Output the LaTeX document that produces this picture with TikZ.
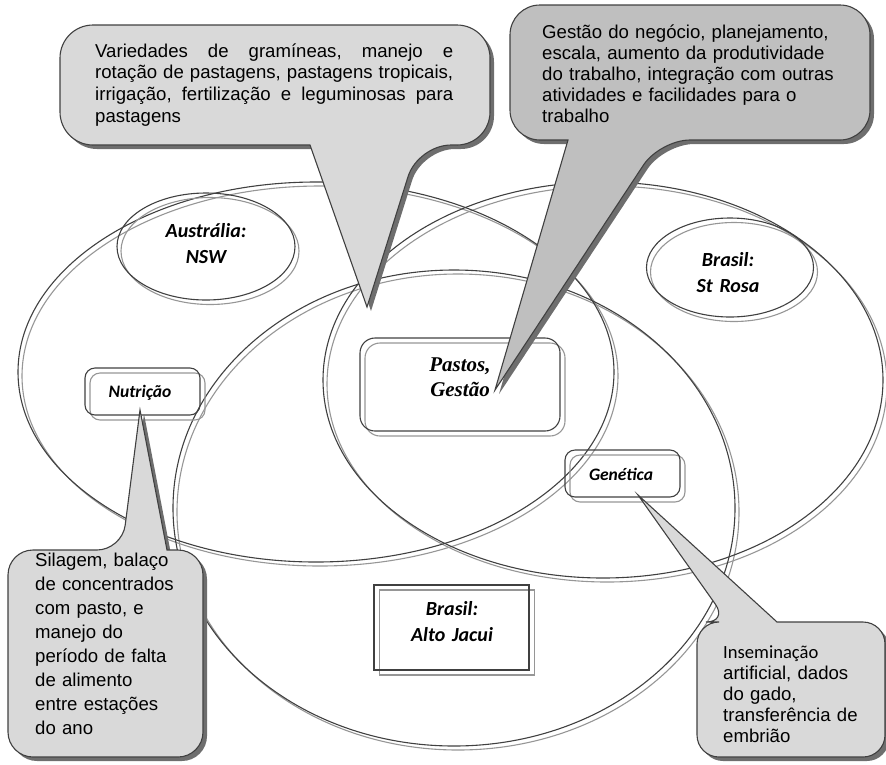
\documentclass[tikz,border=0pt]{standalone}
\usepackage{fontspec}
\setmainfont{Liberation Sans}
\newfontfamily\calfont{Carlito}
\newfontfamily\timesfont{Liberation Serif}
\usetikzlibrary{shapes.geometric}
\definecolor{ldark}{RGB}{64,64,64}
\definecolor{lgray}{RGB}{150,150,150}
\definecolor{cfill}{RGB}{217,217,217}
\definecolor{cfilltwo}{RGB}{191,191,191}
\definecolor{cshadow}{RGB}{110,110,110}
\tikzset{
  dk/.style={draw=ldark, line width=1.1pt},
  gr/.style={draw=lgray, line width=1.1pt},
  rbox/.style={rectangle, rounded corners=#1, inner sep=0pt},
  ell/.style={ellipse, inner sep=0pt},
  calloutbody/.style={draw=ldark, line width=1.1pt, fill=#1},
  calloutshadow/.style={fill=cshadow, transform canvas={shift={(4,4)}}},
  ctext/.style={anchor=base west, inner sep=0pt, text width=#1, align=left},
  regionlab/.style={anchor=base, inner sep=0pt, text width=150, align=center,
    font=\calfont\bfseries\itshape\fontsize{20}{26}\selectfont},
  smalllab/.style={anchor=base, inner sep=0pt,
    font=\calfont\bfseries\itshape\fontsize{17.5}{21}\selectfont},
}
\begin{document}
\begin{tikzpicture}[x=1pt, y=-1pt]
\useasboundingbox (0,0) rectangle (886,764);

% large regions (gray copies, then dark)
\draw[gr] (320,376) ellipse [x radius=298, y radius=190];
\draw[gr] (607,384) ellipse [x radius=280, y radius=198];
\draw[gr] (458,512) ellipse [x radius=281, y radius=238];
\draw[dk] (316,372) ellipse [x radius=298, y radius=190];
\draw[dk] (603,380) ellipse [x radius=280, y radius=198];
\draw[dk] (454,508) ellipse [x radius=281, y radius=238];

% small shapes: gray copies
\node[gr, ell, minimum width=178, minimum height=107] (nswcopy) at (210,251) {};
\node[gr, ell, minimum width=167, minimum height=99] (strosacopy) at (734,272) {};
\node[gr, rbox=15, minimum width=200, minimum height=93] (pastcopy) at (465,389.5) {};
\node[gr, rbox=10, minimum width=115, minimum height=47] (nutcopy) at (147.5,396.5) {};
\node[gr, rbox=10, minimum width=115, minimum height=47] (gencopy) at (627.5,478.5) {};
\node[gr, rectangle, inner sep=0pt, minimum width=155, minimum height=85] (altocopy) at (457,632.5) {};
% small shapes: dark
\node[dk, ell, minimum width=178, minimum height=107] (nswshape) at (206,246.5) {};
\node[dk, ell, minimum width=167, minimum height=99] (strosashape) at (730,267.5) {};
\node[dk, rbox=15, minimum width=200, minimum height=93] (pastshape) at (460,384.5) {};
\node[dk, rbox=10, minimum width=115, minimum height=47] (nutshape) at (142.5,391.5) {};
\node[dk, rbox=10, minimum width=115, minimum height=47] (genshape) at (622.5,473.5) {};
\node[dk, rectangle, inner sep=0pt, minimum width=155, minimum height=85] (altoshape) at (451.5,627.5) {};

% labels
\node[regionlab] (nswlab) at (206,237) {Austrália:\\NSW};
\node[regionlab] (strosalab) at (728,266.5) {Brasil:\\St Rosa};
\node[regionlab] (altolab) at (452,615) {Brasil:\\Alto Jacui};
\node[anchor=base, inner sep=0pt, text width=150, align=center,
  font=\timesfont\bfseries\itshape\fontsize{21}{25}\selectfont] (pastlab) at (460,371) {Pastos,\\Gestão};
\node[smalllab] (nutlab) at (140,397.5) {Nutrição};
\node[smalllab] (genlab) at (621,480) {Genética};

% callout tips
\coordinate (tlTip) at (367,307);
\coordinate (trTip) at (495,390);
\coordinate (blTip) at (140,410);
\coordinate (brTip) at (638,495);

\def\TLpath{(275,25) [rounded corners=33] -- (490,25) -- (490,145) -- (418,145) [sharp corners] -- (tlTip) -- (310,145) [rounded corners=33] -- (60,145) -- (60,25) -- cycle}
\def\TRpath{(690,5) [rounded corners=30] -- (870,5) -- (870,140) -- (660,140) [sharp corners] -- (trTip) -- (568,140) [rounded corners=30] -- (510,140) -- (510,5) -- cycle}
\def\BLpath{(100,757) [rounded corners=25] -- (8,757) -- (8,550) -- (122,550) [sharp corners] -- (blTip) -- (167,550) [rounded corners=25] -- (203,550) -- (203,757) -- cycle}
\def\BRpath{(790,757) [rounded corners=22] -- (697,757) -- (697,622) -- (728,622) [sharp corners] -- (brTip) -- (777,622) [rounded corners=22] -- (885,622) -- (885,757) -- cycle}

\path[calloutshadow] \TLpath;
\path[calloutbody=cfill] \TLpath;
\path[calloutshadow] \TRpath;
\path[calloutbody=cfilltwo] \TRpath;
\path[calloutshadow] \BLpath;
\path[calloutbody=cfill] \BLpath;
\path[calloutshadow] \BRpath;
\path[calloutbody=cfill] \BRpath;

% callout texts
\node[ctext=358, font=\fontsize{18.6}{21.7}\selectfont] (tltext) at (95,57) {%
\makebox[358pt][l]{Variedades\hfill de\hfill gramíneas,\hfill manejo\hfill e}\\
\makebox[358pt][l]{rotação\hfill de\hfill pastagens,\hfill pastagens\hfill tropicais,}\\
\makebox[358pt][l]{irrigação,\hfill fertilização\hfill e\hfill leguminosas\hfill para}\\
pastagens};
\node[ctext=320, font=\fontsize{18.6}{21.1}\selectfont] (trtext) at (542,38.5) {%
Gestão do negócio, planejamento,\\
escala, aumento da produtividade\\
do trabalho, integração com outras\\
atividades e facilidades para o\\
trabalho};
\node[ctext=165, font=\fontsize{18.6}{24}\selectfont] (bltext) at (35,566.5) {%
Silagem, balaço\\
de concentrados\\
com pasto, e\\
manejo do\\
período de falta\\
de alimento\\
entre estações\\
do ano};
\node[ctext=160, font=\fontsize{18.6}{21}\selectfont] (brtext) at (723,658) {%
{\calfont Inseminação}\\
artificial, dados\\
do gado,\\
transferência de\\
embrião};
\end{tikzpicture}
\end{document}
